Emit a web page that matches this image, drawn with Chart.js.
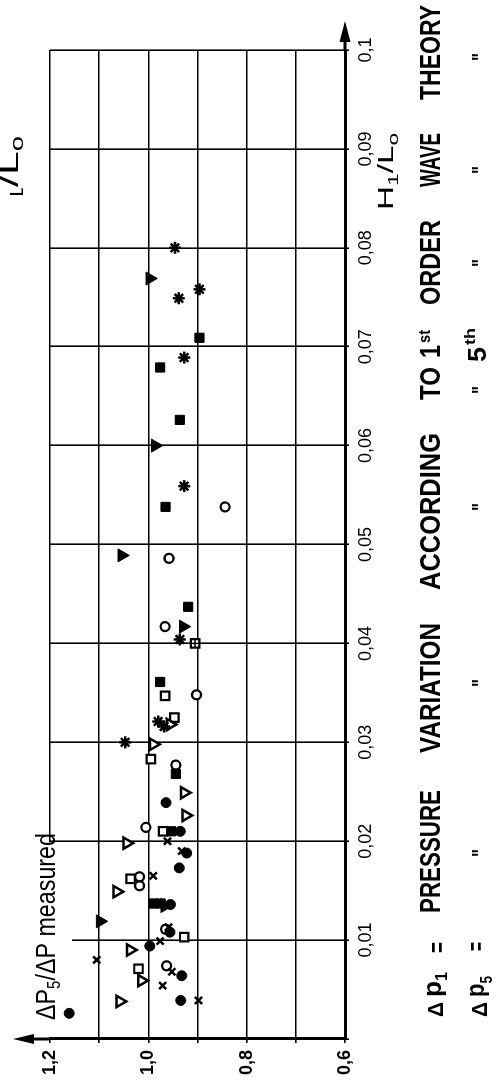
<!DOCTYPE html>
<html lang="en">
<head>
  <meta charset="UTF-8">
  <title>Pressure variation ratio vs H1/L0</title>
  <script src="https://cdn.jsdelivr.net/npm/chart.js"></script>
  <style>
    html, body { margin: 0; padding: 0; background: #fff; overflow: hidden; }
    /* chart is drawn upright and turned a quarter turn, like the printed page */
    #rot {
      position: absolute; left: 0; top: 0;
      width: 1085px; height: 499px;
      transform-origin: 0 0;
      transform: translateY(1085px) rotate(-90deg);
    }
  </style>
</head>
<body>
  <div id="rot"><canvas id="grafico" width="1085" height="499"></canvas></div>
  <script>
    // ---- data: [H1/L0, dP5/dP measured] ----
    const filledCircles = [[0.0026,1.161],[0.0039,0.934],[0.0064,0.932],[0.0094,0.997],[0.0108,0.956],
      [0.0136,0.955],[0.0173,0.937],[0.0188,0.922],[0.0210,0.935],[0.0239,0.964]];
    const openCircles = [[0.0074,0.963],[0.0111,0.965],[0.0155,1.018],[0.0164,1.018],[0.0214,1.005],
      [0.0277,0.944],[0.0348,0.902],[0.0417,0.966],[0.0486,0.958],[0.0538,0.844]];
    const filledSquares = [[0.0137,0.990],[0.0137,0.975],[0.0210,0.953],[0.0268,0.944],[0.0361,0.976],
      [0.0437,0.919],[0.0538,0.965],[0.0626,0.936],[0.0679,0.976],[0.0709,0.896]];
    const openSquares = [[0.0071,1.020],[0.0103,0.927],[0.0162,1.036],[0.0210,0.970],[0.0283,0.995],
      [0.0325,0.947],[0.0347,0.966],[0.0400,0.905]];
    const filledTriangles = [[0.0119,1.098],[0.0417,0.929],[0.0489,1.054],[0.0600,0.986],[0.0769,0.997]];
    const openTriangles = [[0.0038,1.058],[0.0059,1.014],[0.0090,1.037],[0.0135,0.966],[0.0149,1.064],
      [0.0198,1.044],[0.0226,0.924],[0.0249,0.927],[0.0298,0.990],[0.0318,0.956]];
    const stars = [[0.0300,1.047],[0.0321,0.980],[0.0316,0.968],[0.0404,0.936],[0.0559,0.927],
      [0.0689,0.927],[0.0749,0.938],[0.0758,0.896],[0.0800,0.946]];
    const crosses = [[0.0039,0.898],[0.0054,0.971],[0.0068,0.952],[0.0080,1.105],[0.0099,0.976],
      [0.0113,0.959],[0.0165,0.990],[0.0190,0.932],[0.0200,0.961]];
    const plusMarks = [[0.0400,0.905]];

    // axes
    const xMin = 0, xMax = 0.1, xStep = 0.01;
    const yMin = 0.6, yMax = 1.2, yStep = 0.1;

    const FONT = '"Liberation Sans", Arial, sans-serif';

    const fmtX = v => {
      const r = Math.round(v * 100);
      return r === 0 ? '' : (r / 100).toString().replace('.', ',');
    };
    const fmtY = v => {
      const r = Math.round(v * 10);
      return r % 2 === 0 ? (r / 10).toFixed(1).replace('.', ',') : '';
    };

    function serie(label, pts, style, opts) {
      return Object.assign({
        label,
        data: pts.map(p => ({ x: p[0], y: p[1] })),
        pointStyle: style,
        pointBackgroundColor: '#000',
        pointBorderColor: '#000',
        pointBorderWidth: 1,
        pointRadius: 5,
        pointHoverRadius: 5,
        showLine: false
      }, opts);
    }

    // draws text pieces [text, size, dy] squeezed/stretched into x0..x1
    function drawSegs(ctx, segs, x0, x1, base, weight) {
      const f = s => (weight || 'normal') + ' ' + s + 'px ' + FONT;
      let total = 0;
      const w = segs.map(s => { ctx.font = f(s[1]); const m = ctx.measureText(s[0]).width; total += m; return m; });
      const k = (x1 - x0) / total;
      let x = x0;
      segs.forEach((s, i) => {
        ctx.save();
        ctx.font = f(s[1]);
        ctx.textAlign = 'left';
        ctx.textBaseline = 'alphabetic';
        ctx.translate(x, base + s[2]);
        ctx.scale(k, 1);
        ctx.fillText(s[0], 0, 0);
        ctx.restore();
        x += w[i] * k;
      });
    }

    const decor = {
      id: 'decor',
      beforeDatasetsDraw(chart) {
        const { ctx, chartArea: a, scales: { x } } = chart;
        const x01 = x.getPixelForValue(0.01), x02 = x.getPixelForValue(0.02);
        ctx.save();
        ctx.fillStyle = '#fff';
        ctx.fillRect(a.left + 2, a.top - 30, x02 - a.left - 3, 42);
        ctx.fillRect(x01 - 2, a.top + 9, 4, 13);
        ctx.fillStyle = '#000';
        drawSegs(ctx, [['ΔP', 28, 0], ['5', 18, 5], ['/ΔP measured', 28, 0]], a.left + 19, a.left + 206, a.top + 5);
        ctx.restore();
      },
      afterDraw(chart) {
        const { ctx, chartArea: a } = chart;
        ctx.save();
        ctx.strokeStyle = '#000';
        ctx.fillStyle = '#000';
        ctx.lineWidth = 3;
        // axis arrows
        ctx.beginPath();
        ctx.moveTo(a.left, a.top); ctx.lineTo(a.left, a.top - 20);
        ctx.moveTo(a.right, a.bottom); ctx.lineTo(a.right + 10, a.bottom);
        ctx.stroke();
        ctx.beginPath();
        ctx.moveTo(a.left, a.top - 37); ctx.lineTo(a.left - 5, a.top - 16); ctx.lineTo(a.left + 5, a.top - 16);
        ctx.closePath(); ctx.fill();
        ctx.beginPath();
        ctx.moveTo(a.right + 29, a.bottom); ctx.lineTo(a.right + 8, a.bottom - 5.5); ctx.lineTo(a.right + 8, a.bottom + 5.5);
        ctx.closePath(); ctx.fill();

        // axis title
        drawSegs(ctx, [['H', 22, 0], ['1', 15, 5], ['/L', 22, 0], ['o', 15, 5]], 875, 952, 393);

        // stray title at the top edge of the scan
        ctx.save();
        ctx.beginPath(); ctx.rect(890, 0, 80, 30); ctx.clip();
        drawSegs(ctx, [['H', 28, 0], ['1', 18, 5], ['/L', 28, 0], ['o', 18, 5]], 852, 949, 18);
        ctx.restore();

        // caption, line 1
        const B = 'bold';
        drawSegs(ctx, [['Δ', 22, 0]], 68, 83, 443, B);
        drawSegs(ctx, [['p', 26, 0], ['1', 16, 6]], 88, 113, 441, B);
        drawSegs(ctx, [['=', 26, 0]], 132, 143, 446, B);
        const words = [['PRESSURE', 172, 295], ['VARIATION', 332, 462], ['ACCORDING', 495, 652],
          ['TO', 685, 718], ['ORDER', 780, 865], ['WAVE', 898, 952], ['THEORY', 985, 1080]];
        words.forEach(w => drawSegs(ctx, [[w[0], 30, 0]], w[1], w[2], 440, B));
        drawSegs(ctx, [['1', 30, 0]], 727, 740, 440, B);
        drawSegs(ctx, [['st', 16, 0]], 742, 755, 430, B);

        // caption, line 2
        drawSegs(ctx, [['Δ', 22, 0]], 68, 83, 487, B);
        drawSegs(ctx, [['p', 26, 0], ['5', 16, 8]], 88, 109, 484, B);
        drawSegs(ctx, [['=', 26, 0]], 134, 143, 485, B);
        [232, 402, 578, 695, 822, 915, 1028].forEach(c => drawSegs(ctx, [['"', 24, 0]], c - 4, c + 4, 489, B));
        drawSegs(ctx, [['5', 26, 0]], 723, 738, 486, B);
        drawSegs(ctx, [['th', 15, 0]], 740, 757, 475, B);
        ctx.restore();
      }
    };

    const datasets = [
      serie('+', plusMarks, 'cross', { pointRadius: 4, pointBorderWidth: 1.5 }),
      serie('x', crosses, 'crossRot', { pointRadius: 5, pointBorderWidth: 2.5 }),
      serie('star', stars, 'star', { pointRadius: 6, pointBorderWidth: 2.5 }),
      serie('filled circle', filledCircles, 'circle', { pointRadius: 5 }),
      serie('filled square', filledSquares, 'rect', { pointRadius: 6.5 }),
      serie('filled triangle', filledTriangles, 'triangle', { pointRadius: 7.5, pointRotation: 180 }),
      serie('open triangle', openTriangles, 'triangle', { pointRadius: 6.5, pointRotation: 180, pointBackgroundColor: '#fff', pointBorderWidth: 2.5 }),
      serie('open square', openSquares, 'rect', { pointRadius: 6, pointBackgroundColor: '#fff', pointBorderWidth: 2.2 }),
      serie('open circle', openCircles, 'circle', { pointRadius: 4.5, pointBackgroundColor: '#fff', pointBorderWidth: 2.3 })
    ];

    new Chart(document.getElementById('grafico'), {
      type: 'scatter',
      data: { datasets },
      options: {
        responsive: false,
        animation: false,
        devicePixelRatio: 1,
        layout: { padding: { left: 0, right: 50, top: 50, bottom: 114 } },
        plugins: { legend: { display: false }, tooltip: { enabled: false } },
        scales: {
          x: {
            type: 'linear', min: xMin, max: xMax,
            ticks: { stepSize: xStep, autoSkip: false, maxRotation: 0, padding: 6, color: '#000',
                     font: { family: FONT, size: 18 }, callback: fmtX },
            grid: { color: '#000', lineWidth: 1.6, tickLength: 4 },
            border: { color: '#000', width: 3 },
            afterFit: s => { s.height = 40; }
          },
          y: {
            type: 'linear', min: yMin, max: yMax,
            ticks: { stepSize: yStep, autoSkip: false, padding: 7, color: '#000',
                     font: { family: FONT, size: 18, weight: 'bold' }, callback: fmtY },
            grid: { color: '#000', lineWidth: 1.6, tickLength: 4 },
            border: { color: '#000', width: 3 },
            afterFit: s => { s.width = 46; }
          }
        }
      },
      plugins: [decor]
    });
  </script>
</body>
</html>
